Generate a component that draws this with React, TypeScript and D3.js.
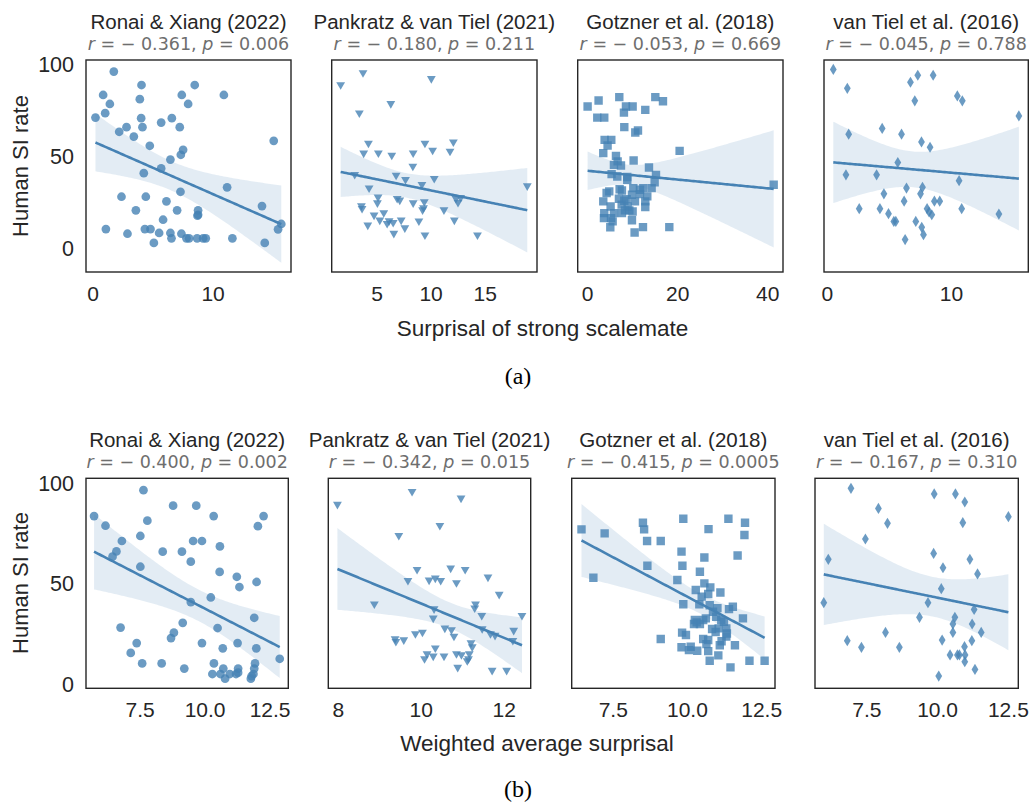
import React from 'react';
import * as d3 from 'd3';

// ---- data ----
const studies = ['Ronai & Xiang (2022)', 'Pankratz & van Tiel (2021)', 'Gotzner et al. (2018)', 'van Tiel et al. (2016)'];

const strongR = [-0.361, -0.18, -0.053, -0.045];
const strongP = ['0.006', '0.211', '0.669', '0.788'];
const avgR = [-0.4, -0.342, -0.415, -0.167];
const avgP = ['0.002', '0.015', '0.0005', '0.310'];

const ronaiStrongX = [1.72, 0.83, 4.03, 8.47, 7.39, 10.9, 3.89, 1.39, 7.92, 0.19, 1.0, 4.0, 6.56, 5.67, 2.78, 4.11, 7.22, 2.17, 3.39, 15.06, 4.72, 7.5, 7.31, 6.44, 5.67, 4.22, 11.17, 7.28, 2.36, 4.39, 6.11, 14.08, 3.56, 7.0, 8.75, 8.75, 8.7, 5.83, 1.06, 4.31, 4.78, 15.69, 15.42, 2.86, 5.5, 6.44, 7.36, 6.53, 7.78, 8.0, 8.67, 9.17, 9.39, 11.61, 5.06, 14.31];
const ronaiStrongY = [96.4, 83.7, 89.1, 89.1, 83.7, 83.7, 81.4, 78.8, 78.8, 71.4, 73.8, 71.1, 71.1, 68.7, 66.2, 66.2, 66.2, 63.7, 61.1, 58.8, 56.1, 53.9, 51.2, 48.6, 43.8, 41.2, 33.5, 31.1, 28.4, 28.4, 25.9, 23.3, 21.0, 21.0, 21.0, 18.6, 18.1, 15.9, 10.8, 10.8, 10.8, 13.6, 10.7, 8.3, 8.7, 8.7, 8.3, 5.8, 5.8, 5.8, 5.8, 5.8, 5.8, 5.8, 3.3, 3.3];

const pankratzStrongX = [1.63, 3.7, 10.02, 6.27, 3.36, 4.2, 9.43, 12.06, 3.76, 5.12, 6.36, 8.34, 10.14, 11.75, 8.31, 2.93, 6.76, 7.63, 10.29, 9.15, 4.26, 18.9, 5.09, 6.86, 7.1, 12.3, 12.74, 12.49, 5.03, 8.34, 9.37, 3.55, 3.61, 9.3, 9.21, 11.19, 5.62, 4.72, 7.23, 8.87, 12.15, 5.25, 6.11, 5.93, 6.49, 4.14, 7.57, 6.55, 9.43, 14.29];
const pankratzStrongY = [88.6, 95.1, 91.9, 78.3, 73.2, 56.8, 56.8, 57.5, 51.4, 51.5, 50.3, 51.5, 53.0, 52.4, 44.3, 39.8, 39.4, 37.1, 37.6, 34.4, 32.5, 33.6, 27.5, 26.8, 25.9, 26.8, 27.3, 24.6, 24.4, 24.4, 25.0, 22.8, 21.3, 21.7, 20.6, 20.6, 19.0, 17.7, 15.0, 14.5, 15.0, 15.0, 14.6, 13.2, 13.7, 12.3, 10.8, 7.8, 6.9, 6.9];

const gotznerStrongX = [0.0, 2.44, 7.04, 15.04, 16.74, 8.52, 10.0, 8.07, 12.81, 2.15, 3.7, 8.15, 11.19, 10.59, 3.78, 5.26, 4.44, 3.48, 20.44, 6.3, 6.67, 7.41, 10.22, 13.63, 5.33, 6.59, 8.81, 15.19, 14.89, 41.33, 7.11, 7.63, 10.15, 12.37, 14.22, 4.81, 4.22, 9.85, 11.63, 13.26, 8.15, 3.48, 10.52, 12.81, 7.56, 5.11, 8.89, 12.81, 8.3, 10.0, 3.7, 5.85, 7.63, 9.26, 3.63, 5.19, 5.56, 9.85, 5.04, 12.3, 18.15, 10.44, 6.96, 8.67, 11.63, 5.85, 8.81];
const gotznerStrongY = [77.4, 80.7, 82.5, 82.5, 80.3, 77.4, 77.4, 74.1, 75.6, 71.4, 71.4, 66.2, 64.4, 63.3, 59.3, 59.3, 56.2, 52.1, 53.3, 50.6, 47.6, 45.4, 48.1, 44.3, 40.7, 39.4, 39.1, 40.3, 36.3, 34.9, 32.5, 31.8, 33.1, 33.1, 33.1, 31.3, 30.4, 29.5, 29.8, 28.6, 26.2, 25.9, 25.9, 25.9, 24.1, 23.1, 23.1, 22.8, 21.0, 20.4, 19.5, 19.5, 19.5, 21.0, 16.8, 16.8, 15.0, 15.6, 11.8, 11.9, 11.9, 9.0, 27.3, 27.1, 32.2, 45.7, 37.6];

const vanTielStrongX = [0.48, 1.61, 6.7, 7.29, 8.53, 7.05, 10.48, 10.88, 15.44, 1.72, 4.42, 5.98, 7.59, 8.28, 5.68, 1.5, 3.97, 10.62, 6.38, 7.67, 4.56, 7.51, 6.19, 8.63, 9.06, 2.57, 4.24, 8.04, 10.83, 4.93, 8.2, 8.42, 13.83, 5.36, 5.52, 7.13, 7.61, 7.75, 6.27];
const vanTielStrongY = [97.6, 87.3, 90.6, 94.4, 94.4, 80.5, 83.2, 80.5, 72.3, 62.4, 65.5, 62.4, 58.2, 55.3, 47.0, 40.3, 40.3, 37.1, 33.1, 33.5, 30.0, 30.0, 26.0, 26.0, 26.0, 21.9, 21.9, 21.9, 21.9, 19.2, 20.1, 18.6, 19.0, 15.0, 15.0, 15.0, 11.8, 7.8, 5.1];

const ronaiAvgX = [5.73, 7.63, 8.77, 9.66, 6.17, 7.78, 10.33, 12.25, 12.03, 7.51, 6.8, 9.54, 9.88, 6.59, 6.44, 8.37, 9.11, 10.57, 7.51, 9.45, 10.56, 11.22, 11.32, 11.98, 9.45, 10.22, 11.89, 6.75, 9.14, 10.48, 8.8, 8.69, 7.37, 9.88, 11.25, 7.14, 10.68, 11.97, 7.58, 8.33, 10.34, 11.92, 12.87, 9.2, 10.7, 11.27, 11.89, 10.28, 10.59, 10.95, 11.19, 11.27, 11.86, 10.77, 11.76, 11.79];
const ronaiAvgY = [83.9, 96.8, 89.1, 89.1, 79.1, 81.6, 83.9, 83.9, 78.9, 74.0, 71.5, 71.5, 71.5, 66.3, 63.7, 66.2, 66.2, 68.8, 58.7, 61.2, 56.1, 53.7, 48.6, 51.1, 41.1, 43.4, 33.3, 28.4, 30.8, 28.2, 25.9, 23.2, 20.7, 20.7, 20.7, 15.8, 18.1, 18.1, 10.6, 10.6, 10.6, 10.6, 12.9, 8.0, 8.0, 8.0, 8.0, 5.3, 5.3, 5.3, 5.3, 6.0, 5.3, 3.0, 3.0, 4.3];

const pankratzAvgX = [7.98, 9.78, 10.96, 10.45, 9.46, 9.9, 10.71, 11.06, 9.68, 10.19, 10.34, 10.47, 10.85, 11.61, 11.88, 8.87, 11.31, 11.29, 10.31, 10.29, 11.46, 12.43, 10.57, 10.73, 11.47, 12.23, 9.86, 10.03, 10.79, 11.67, 11.78, 12.21, 9.37, 9.39, 9.58, 11.2, 11.23, 10.34, 10.14, 10.29, 10.08, 10.55, 10.85, 10.97, 11.16, 11.11, 10.88, 11.71, 12.06, 11.14];
const pankratzAvgY = [89.1, 95.5, 92.2, 78.6, 73.6, 56.7, 57.4, 56.7, 51.2, 51.4, 52.4, 51.2, 50.1, 52.9, 44.3, 39.5, 39.5, 37.5, 37.1, 32.5, 33.8, 33.8, 27.5, 26.7, 27.2, 26.4, 24.7, 25.5, 23.5, 24.7, 23.9, 21.4, 22.2, 20.9, 21.7, 20.2, 18.2, 17.6, 14.8, 13.6, 12.3, 13.6, 14.8, 14.3, 14.8, 11.3, 8.0, 6.5, 6.5, 12.3];

const gotznerAvgX = [6.43, 7.21, 8.5, 8.54, 9.86, 11.38, 11.94, 10.71, 11.92, 8.64, 9.1, 9.8, 11.69, 10.57, 8.65, 9.83, 6.83, 10.42, 9.66, 10.57, 10.28, 10.77, 11.11, 10.7, 10.48, 9.86, 10.4, 10.75, 11.01, 11.53, 11.4, 10.86, 10.97, 10.62, 11.87, 10.53, 11.14, 10.31, 10.22, 10.42, 11.23, 10.83, 11.05, 11.31, 9.82, 9.95, 11.33, 11.31, 9.1, 10.53, 10.7, 11.15, 11.09, 9.8, 10.11, 11.6, 10.05, 10.33, 10.7, 11.04, 10.75, 12.09, 12.6, 11.45, 10.25, 10.95, 10.64];
const gotznerAvgY = [77.3, 75.3, 80.6, 77.3, 82.6, 82.6, 80.6, 77.4, 74.5, 71.5, 71.5, 66.2, 64.3, 63.3, 59.2, 59.2, 53.2, 56.2, 52.1, 50.4, 47.1, 48.4, 45.9, 45.1, 43.8, 40.0, 40.0, 39.5, 38.1, 38.8, 37.6, 36.3, 33.8, 33.0, 33.0, 32.2, 32.2, 31.0, 30.2, 30.2, 31.3, 27.7, 28.0, 28.0, 25.9, 24.7, 25.5, 23.9, 22.7, 22.7, 22.2, 21.6, 19.6, 18.6, 18.9, 19.6, 17.2, 16.9, 16.7, 14.6, 11.9, 11.9, 11.9, 8.6, 32.2, 26.2, 20.2];

const vanTielAvgX = [6.94, 9.88, 10.63, 10.96, 7.91, 8.23, 10.89, 12.5, 7.45, 6.14, 9.86, 11.14, 10.19, 11.41, 10.13, 5.98, 9.66, 11.29, 9.36, 10.61, 10.54, 11.22, 8.16, 10.54, 11.54, 10.16, 6.81, 11.21, 7.31, 8.65, 10.95, 10.44, 10.7, 10.77, 10.97, 10.96, 11.32, 10.04];
const vanTielAvgY = [97.7, 94.9, 94.9, 90.9, 87.7, 80.3, 80.6, 83.6, 72.5, 62.4, 65.3, 62.4, 58.2, 55.1, 47.8, 40.8, 40.8, 37.4, 33.5, 33.5, 30.2, 30.2, 26.0, 26.0, 26.0, 22.2, 21.9, 21.9, 18.6, 18.6, 18.9, 14.8, 14.8, 14.8, 14.8, 11.4, 7.6, 4.3];

// axis limits and ticks per panel
const strongXDomains: [number, number][] = [[-0.6, 16.5], [0.8, 19.8], [-2.2, 43.4], [-0.27, 16.2]];
const strongXTicks = [[0, 10], [5, 10, 15], [0, 20, 40], [0, 10]];
const avgXDomains: [number, number][] = [[5.42, 13.2], [7.76, 12.64], [6.1, 12.95], [5.67, 12.85]];
const avgXTicks = [[7.5, 10, 12.5], [8, 10, 12], [7.5, 10, 12.5], [7.5, 10, 12.5]];
const avgXFormats = ['.1f', 'd', '.1f', '.1f'];
const yTicks = [0, 50, 100];

const markers = ['circle', 'triangle', 'square', 'diamond'];

// ---- layout ----
const W = 1029;
const H = 803;
const topRow = { y0: 60, y1: 272, yDomain: [-12.5, 102.7] as [number, number] };
const botRow = { y0: 478.3, y1: 688.3, yDomain: [-1.8, 102.7] as [number, number] };
const topX: [number, number][] = [[86, 291], [331.7, 537], [577.7, 783], [824, 1028.3]];
const botX: [number, number][] = [[86, 288.3], [328.3, 530.7], [571.7, 775], [815, 1018.3]];

const BLUE = '#4682b4';
const INK = '#262626';
const SANS = '"Liberation Sans", Arial, sans-serif';
const MATH = '"DejaVu Sans", sans-serif';

const markerPath: Record<string, string> = {
  circle: d3.symbol(d3.symbolCircle, 60)() as string,
  square: 'M-4.2,-4.2h8.4v8.4h-8.4Z',
  triangle: 'M-4.4,-3.8L4.4,-3.8L0,3.8Z',
  diamond: 'M0,-5.6L3.4,0L0,5.6L-3.4,0Z',
};

// ols fit + 95% band of the mean, over the data range
function fitBand(xs: number[], ys: number[]) {
  const n = xs.length;
  const mx = d3.mean(xs)!;
  const my = d3.mean(ys)!;
  let sxx = 0;
  let sxy = 0;
  xs.forEach((x, i) => {
    sxx += (x - mx) ** 2;
    sxy += (x - mx) * (ys[i] - my);
  });
  const b = sxy / sxx;
  const a = my - b * mx;
  const sse = d3.sum(xs, (x, i) => (ys[i] - a - b * x) ** 2);
  const s = Math.sqrt(sse / (n - 2));
  const t = 2.1;
  const [lo, hi] = d3.extent(xs) as [number, number];
  return d3.range(0, 101).map((k) => {
    const x = lo + ((hi - lo) * k) / 100;
    const yh = a + b * x;
    const se = s * Math.sqrt(1 / n + (x - mx) ** 2 / sxx);
    return { x, y: yh, y0: yh - t * se, y1: yh + t * se };
  });
}

type PanelProps = {
  id: string;
  title: string;
  r: number;
  p: string;
  xs: number[];
  ys: number[];
  xDomain: [number, number];
  xTicks: number[];
  xFmt: string;
  marker: string;
  xr: [number, number];
  row: { y0: number; y1: number; yDomain: [number, number] };
  showY: boolean;
};

function Panel({ id, title, r, p, xs, ys, xDomain, xTicks, xFmt, marker, xr, row, showY }: PanelProps) {
  const x = d3.scaleLinear().domain(xDomain).range(xr);
  const y = d3.scaleLinear().domain(row.yDomain).range([row.y1, row.y0]);
  const fit = fitBand(xs, ys);
  const area = d3
    .area<{ x: number; y0: number; y1: number }>()
    .x((d) => x(d.x))
    .y0((d) => y(d.y0))
    .y1((d) => y(d.y1));
  const line = d3
    .line<{ x: number; y: number }>()
    .x((d) => x(d.x))
    .y((d) => y(d.y));
  const cx = (xr[0] + xr[1]) / 2;
  const fmt = d3.format(xFmt);
  const rStr = d3.format('.3f')(r);
  return (
    <g>
      <defs>
        <clipPath id={id}>
          <rect x={xr[0]} y={row.y0} width={xr[1] - xr[0]} height={row.y1 - row.y0} />
        </clipPath>
      </defs>
      <g clipPath={`url(#${id})`}>
        <path d={area(fit) as string} fill={BLUE} fillOpacity={0.15} />
        {xs.map((v, i) => (
          <path key={i} d={markerPath[marker]} transform={`translate(${x(v)},${y(ys[i])})`} fill={BLUE} fillOpacity={0.8} />
        ))}
        <path d={line(fit) as string} fill="none" stroke={BLUE} strokeWidth={2.6} />
      </g>
      <rect x={xr[0]} y={row.y0} width={xr[1] - xr[0]} height={row.y1 - row.y0} fill="none" stroke={INK} strokeWidth={1.4} />
      {xTicks.map((t) => (
        <text key={t} x={x(t)} y={row.y1 + 21} textAnchor="middle" dominantBaseline="central" fontFamily={SANS} fontSize={21} fill={INK}>
          {fmt(t)}
        </text>
      ))}
      {showY &&
        yTicks.map((t) => (
          <text key={t} x={xr[0] - 12} y={y(t)} textAnchor="end" dominantBaseline="central" fontFamily={SANS} fontSize={21.5} fill={INK}>
            {t}
          </text>
        ))}
      <text x={cx} y={row.y0 - 39} textAnchor="middle" dominantBaseline="central" fontFamily={SANS} fontSize={20.5} fill={INK}>
        {title}
      </text>
      <text x={cx} y={row.y0 - 16} textAnchor="middle" dominantBaseline="central" fontFamily={MATH} fontSize={17.5} fill="#6e6e6e">
        <tspan fontStyle="italic">r</tspan>
        <tspan>{` = ${rStr.replace('−', '− ')}, `}</tspan>
        <tspan fontStyle="italic">p</tspan>
        <tspan>{` = ${p}`}</tspan>
      </text>
    </g>
  );
}

const strongData = [
  [ronaiStrongX, ronaiStrongY],
  [pankratzStrongX, pankratzStrongY],
  [gotznerStrongX, gotznerStrongY],
  [vanTielStrongX, vanTielStrongY],
];
const avgData = [
  [ronaiAvgX, ronaiAvgY],
  [pankratzAvgX, pankratzAvgY],
  [gotznerAvgX, gotznerAvgY],
  [vanTielAvgX, vanTielAvgY],
];

export default function App() {
  return (
    <svg width={W} height={H} style={{ position: 'absolute', left: 0, top: 0, background: '#fff' }}>
      {studies.map((s, i) => (
        <Panel
          key={'a' + i}
          id={'clipA' + i}
          title={s}
          r={strongR[i]}
          p={strongP[i]}
          xs={strongData[i][0]}
          ys={strongData[i][1]}
          xDomain={strongXDomains[i]}
          xTicks={strongXTicks[i]}
          xFmt="d"
          marker={markers[i]}
          xr={topX[i]}
          row={topRow}
          showY={i === 0}
        />
      ))}
      {studies.map((s, i) => (
        <Panel
          key={'b' + i}
          id={'clipB' + i}
          title={s}
          r={avgR[i]}
          p={avgP[i]}
          xs={avgData[i][0]}
          ys={avgData[i][1]}
          xDomain={avgXDomains[i]}
          xTicks={avgXTicks[i]}
          xFmt={avgXFormats[i]}
          marker={markers[i]}
          xr={botX[i]}
          row={botRow}
          showY={i === 0}
        />
      ))}
      <text transform="translate(20,166) rotate(-90)" textAnchor="middle" dominantBaseline="central" fontFamily={SANS} fontSize={22} fill={INK}>
        Human SI rate
      </text>
      <text transform="translate(20,583) rotate(-90)" textAnchor="middle" dominantBaseline="central" fontFamily={SANS} fontSize={22} fill={INK}>
        Human SI rate
      </text>
      <text x={542.5} y={328} textAnchor="middle" dominantBaseline="central" fontFamily={SANS} fontSize={22.5} fill={INK}>
        Surprisal of strong scalemate
      </text>
      <text x={537} y={743} textAnchor="middle" dominantBaseline="central" fontFamily={SANS} fontSize={22.5} fill={INK}>
        Weighted average surprisal
      </text>
      <text x={518} y={376} textAnchor="middle" dominantBaseline="central" fontFamily='"Liberation Serif", "Times New Roman", serif' fontSize={24} fill="#000">
        (a)
      </text>
      <text x={518} y={789} textAnchor="middle" dominantBaseline="central" fontFamily='"Liberation Serif", "Times New Roman", serif' fontSize={24} fill="#000">
        (b)
      </text>
    </svg>
  );
}
